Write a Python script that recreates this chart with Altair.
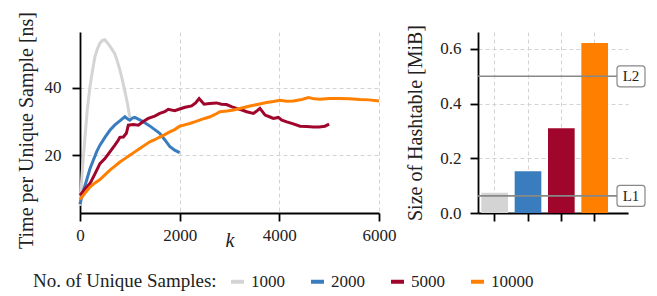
import altair as alt
import pandas as pd

FONT = "Liberation Serif"

series_names = ["1000", "2000", "5000", "10000"]
series_colors = ["#d4d4d4", "#3a7dbf", "#a0052b", "#ff8000"]

k_1000 = [0, 50, 100, 150, 200, 250, 300, 350, 400, 450, 500, 550, 600, 650, 700, 750, 800, 850, 900, 950, 1000]
t_1000 = [5.0, 16.0, 25.4, 34.0, 40.3, 45.0, 49.2, 51.5, 53.2, 54.0, 54.2, 53.3, 52.3, 51.2, 50.0, 47.8, 45.3, 42.3, 39.0, 35.5, 31.2]

k_2000 = [0, 67, 133, 200, 267, 333, 400, 500, 600, 700, 800, 900, 950, 1000, 1050, 1100, 1200, 1300, 1400, 1500, 1600, 1700, 1800, 1900, 2000]
t_2000 = [5.5, 9.5, 12.6, 16.0, 18.5, 21.0, 23.0, 25.3, 27.4, 29.0, 30.2, 31.4, 30.8, 30.4, 31.0, 31.2, 30.5, 29.6, 28.7, 27.6, 26.5, 24.6, 22.6, 21.5, 20.8]

k_5000 = [0, 100, 200, 300, 400, 500, 600, 700, 770, 800, 870, 930, 970, 1070, 1170, 1270, 1370, 1500, 1600, 1700, 1770, 1900, 2000, 2110, 2240, 2320, 2390, 2490, 2600, 2740, 2840, 2940, 3040, 3140, 3250, 3345, 3480, 3540, 3610, 3715, 3800, 3880, 3980, 4050, 4150, 4280, 4415, 4550, 4685, 4800, 4915, 5000]
t_5000 = [8.1, 10.0, 11.6, 14.5, 17.5, 19.0, 21.0, 23.0, 24.5, 25.3, 25.4, 26.5, 28.9, 29.1, 28.9, 30.0, 30.9, 31.6, 32.4, 32.9, 33.6, 33.2, 33.7, 34.2, 34.6, 35.5, 36.8, 35.1, 35.3, 35.5, 35.1, 35.0, 34.4, 33.9, 33.4, 32.9, 32.4, 33.0, 33.9, 31.9, 31.4, 30.9, 31.2, 30.4, 29.9, 29.3, 28.6, 28.5, 28.4, 28.4, 28.6, 29.2]

k_10000 = [0, 100, 200, 300, 400, 500, 600, 700, 800, 900, 1000, 1100, 1200, 1300, 1400, 1500, 1600, 1700, 1800, 1900, 2000, 2100, 2200, 2300, 2400, 2500, 2610, 2700, 2810, 2950, 3080, 3250, 3410, 3580, 3745, 3880, 4015, 4150, 4280, 4450, 4585, 4700, 4820, 5000, 5220, 5400, 5620, 5800, 6000]
t_10000 = [6.9, 8.8, 10.6, 11.8, 12.8, 14.2, 15.6, 16.8, 18.0, 19.0, 20.0, 21.0, 22.0, 23.0, 24.0, 24.6, 25.4, 26.1, 26.9, 27.6, 28.6, 29.0, 29.4, 29.9, 30.4, 30.9, 31.4, 32.0, 32.9, 33.1, 33.4, 34.0, 34.6, 35.1, 35.6, 35.9, 36.3, 36.0, 36.1, 36.5, 37.1, 36.7, 36.6, 36.8, 36.8, 36.7, 36.5, 36.4, 36.1]

table_sizes = [0.074, 0.153, 0.31, 0.622]
cache_names = ["L1", "L2"]
cache_sizes = [0.0625, 0.5]

x_ticks = [0, 2000, 4000, 6000]
time_ticks = [20, 40]
size_ticks = [0.0, 0.2, 0.4, 0.6]

rows = []
for name, ks, ts in zip(series_names, [k_1000, k_2000, k_5000, k_10000], [t_1000, t_2000, t_5000, t_10000]):
    for k, t in zip(ks, ts):
        rows.append({"series": name, "k": k, "t": t})
lines_df = pd.DataFrame(rows)
bars_df = pd.DataFrame({"series": series_names, "size": table_sizes})
cache_df = pd.DataFrame({"name": cache_names, "size": cache_sizes})

color_scale = alt.Scale(domain=series_names, range=series_colors)

lines = alt.Chart(lines_df).mark_line(strokeWidth=3).encode(
    x=alt.X("k:Q", scale=alt.Scale(domain=[0, 6000], nice=False),
            axis=alt.Axis(values=x_ticks, format="d", title="k", titleFontStyle="italic", titleY=33,
                          titleBaseline="alphabetic", labelPadding=6, labelFlush=False,
                          labelFont=FONT)),
    y=alt.Y("t:Q", scale=alt.Scale(domain=[2.9, 56.5], nice=False, zero=False),
            axis=alt.Axis(values=time_ticks, title="Time per Unique Sample [ns]",
                          titleY=98, labelPadding=11, titlePadding=8, labelFont=FONT)),
    color=alt.Color("series:N", scale=color_scale, sort=series_names,
                    legend=alt.Legend(title="No. of Unique Samples:", orient="none",
                                      legendX=-47, legendY=241, direction="horizontal",
                                      titleOrient="left")),
).properties(width=299, height=181)

size_scale = alt.Scale(domain=[0, 0.662], nice=False)

bars = alt.Chart(bars_df).mark_bar().encode(
    x=alt.X("series:N", sort=series_names,
            scale=alt.Scale(paddingInner=0.2, paddingOuter=0.35, align=0.143),
            axis=alt.Axis(labels=False, title=None, grid=True)),
    y=alt.Y("size:Q", scale=size_scale,
            axis=alt.Axis(values=size_ticks, format=".1f", title="Size of Hashtable [MiB]",
                          labelPadding=9, titlePadding=14, labelFont=FONT)),
    color=alt.Color("series:N", scale=color_scale, sort=series_names, legend=None),
)

rules = alt.Chart(cache_df).mark_rule(color="#888888", strokeWidth=1.6).encode(
    y=alt.Y("size:Q", scale=size_scale), x=alt.value(0), x2=alt.value(139))

box_path = ("M-0.79,-0.75 L0.79,-0.75 Q1,-0.75 1,-0.54 L1,0.54 Q1,0.75 0.79,0.75 "
            "L-0.79,0.75 Q-1,0.75 -1,0.54 L-1,-0.54 Q-1,-0.75 -0.79,-0.75 Z")
boxes = alt.Chart(cache_df).mark_point(shape=box_path, size=784, filled=True, fill="white",
                                       stroke="#888888", strokeWidth=1.2, opacity=1).encode(
    y=alt.Y("size:Q", scale=size_scale), x=alt.value(153))

labels = alt.Chart(cache_df).mark_text(font=FONT, fontSize=15, color="#222222").encode(
    y=alt.Y("size:Q", scale=size_scale), x=alt.value(153), text="name:N")

right = alt.layer(bars, rules, boxes, labels).properties(width=150, height=181)

chart = alt.hconcat(lines, right, spacing=9).properties(
    padding={"left": 7, "top": 3, "right": 0, "bottom": 0}
).configure_view(stroke=None).configure_axis(
    domainColor="black", domainWidth=1.8, tickColor="black", tickWidth=1.8, tickSize=8,
    labelFont=FONT, labelFontSize=17, labelColor="#222222",
    titleFont=FONT, titleFontSize=20, titleFontWeight="normal", titleColor="#222222",
    gridColor="#d3d3d3", gridDash=[4, 3], gridWidth=1,
).configure_legend(
    symbolType="stroke", symbolStrokeWidth=4, symbolSize=169,
    labelFont=FONT, labelFontSize=17, labelColor="#222222",
    titleFont=FONT, titleFontSize=19, titleColor="#222222", titleFontWeight="normal",
    titlePadding=12, columnPadding=18, labelOffset=5, titleLimit=400, labelLimit=200,
)

chart.save("out.html", embed_options={"renderer": "svg", "actions": False})
